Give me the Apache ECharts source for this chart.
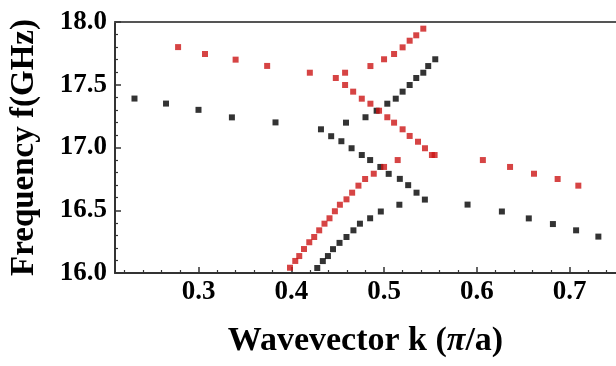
<!DOCTYPE html>
<html><head><meta charset="utf-8">
<script src="https://cdn.jsdelivr.net/npm/echarts@6/dist/echarts.min.js"></script>
<style>html,body{margin:0;padding:0;background:#fff}#c{width:616px;height:366px}</style>
</head><body><div id="c"></div>
<script>
// Black band (k in pi/a, f in GHz)
const blackK = [0.231,0.265,0.300,0.336,0.383,0.432,0.443,0.454,
  0.465,0.476,0.485,0.496,0.505,0.517,0.526,0.535,0.544,
  0.590,0.627,0.656,0.682,0.707,0.731,
  0.428,0.434,0.4395,0.445,0.452,0.4595,0.467,0.474,0.485,0.4965,0.5165,
  0.459,0.480,0.492,0.5035,0.5126,0.520,0.5276,0.5347,0.5423,0.5476,0.5552];
const blackF = [17.39,17.35,17.30,17.24,17.20,17.145,17.09,17.05,
  16.994,16.94,16.90,16.845,16.79,16.75,16.70,16.64,16.585,
  16.545,16.49,16.435,16.39,16.34,16.29,
  16.04,16.095,16.135,16.19,16.24,16.287,16.34,16.393,16.436,16.49,16.544,
  17.198,17.241,17.293,17.349,17.389,17.445,17.498,17.554,17.596,17.649,17.703];
// Red band
const redK = [0.278,0.307,0.340,0.374,0.420,0.448,
  0.458,0.4667,0.476,0.4853,0.4946,0.5035,0.5108,0.520,0.5276,0.5366,0.5441,0.5516,0.5545,
  0.458,0.4853,0.500,0.5108,0.520,0.5276,0.5347,0.5423,
  0.6065,0.6358,0.6616,0.6871,0.7094,
  0.3986,0.4043,0.4086,0.4137,0.4194,0.4247,0.4301,0.4358,0.4412,0.447,0.4524,0.4595,0.4656,0.4724,0.4796,0.4889,0.500,0.5147];
const redF = [17.80,17.745,17.70,17.65,17.596,17.554,
  17.498,17.445,17.389,17.349,17.293,17.241,17.198,17.145,17.092,17.046,16.994,16.94,16.94,
  17.596,17.649,17.703,17.745,17.798,17.851,17.894,17.947,
  16.90,16.845,16.791,16.749,16.696,
  16.042,16.096,16.135,16.191,16.245,16.287,16.34,16.393,16.436,16.492,16.544,16.587,16.64,16.696,16.749,16.791,16.845,16.90];
const xMajor = [0.3,0.4,0.5,0.6,0.7];
const xMinor = [0.22,0.24,0.26,0.28,0.32,0.34,0.36,0.38,0.42,0.44,0.46,0.48,0.52,0.54,0.56,0.58,0.62,0.64,0.66,0.68,0.72,0.74];
const xTitle = '{a|Wavevector k (}{b|π}{a|/a)}';
const yTitle = 'Frequency f(GHz)';

const zip = (a,b)=>a.map((v,i)=>[v,b[i]]);
const font = '"Liberation Serif","Times New Roman",serif';
const axisCol = '#333';
const chart = echarts.init(document.getElementById('c'), null, {renderer:'canvas'});
chart.setOption({
  animation:false,
  backgroundColor:'#fff',
  grid:{left:115, top:22, right:-1, bottom:93, containLabel:false},
  xAxis:[
    {type:'value', min:0.21, max:0.75, position:'bottom',
     axisLine:{show:true, lineStyle:{color:axisCol, width:2}},
     axisTick:{show:true, inside:true, length:6, customValues:xMajor, lineStyle:{color:axisCol, width:1.5}},
     axisLabel:{customValues:xMajor, formatter:v=>v.toFixed(1), color:'#000', fontFamily:font, fontWeight:'bold', fontSize:27, margin:6},
     splitLine:{show:false},
     name:xTitle, nameLocation:'middle', nameGap:51,
     nameTextStyle:{rich:{a:{fontFamily:font, fontWeight:'bold', fontSize:34, color:'#000'},
                          b:{fontFamily:font, fontWeight:'bold', fontStyle:'italic', fontSize:34, color:'#000'}}}},
    {type:'value', min:0.21, max:0.75, position:'bottom',
     axisLine:{show:false}, axisLabel:{show:false}, splitLine:{show:false},
     axisTick:{show:true, inside:true, length:3, customValues:xMinor, lineStyle:{color:axisCol, width:1.2}}},
    {type:'value', min:0.21, max:0.75, position:'top',
     axisLine:{show:true, lineStyle:{color:'#555', width:2}}, axisLabel:{show:false}, axisTick:{show:false}, splitLine:{show:false}}
  ],
  yAxis:{type:'value', min:16, max:18, interval:0.5,
    axisLine:{show:true, lineStyle:{color:axisCol, width:2}},
    axisTick:{show:true, inside:true, length:6, lineStyle:{color:axisCol, width:1.5}},
    minorTick:{show:true, splitNumber:5, length:3, lineStyle:{color:axisCol, width:1.2}},
    axisLabel:{formatter:v=>v.toFixed(1), color:'#000', fontFamily:font, fontWeight:'bold', fontSize:27, margin:8},
    splitLine:{show:false},
    name:yTitle, nameLocation:'middle', nameGap:74,
    nameTextStyle:{fontFamily:font, fontWeight:'bold', fontSize:33, color:'#000'}},
  series:[
    {type:'scatter', name:'black', xAxisIndex:0, symbol:'rect', symbolSize:6, itemStyle:{color:'#000'}, data:zip(blackK,blackF)},
    {type:'scatter', name:'red', xAxisIndex:0, symbol:'rect', symbolSize:6, itemStyle:{color:'#cc1515'}, data:zip(redK,redF)}
  ]
});
</script></body></html>
